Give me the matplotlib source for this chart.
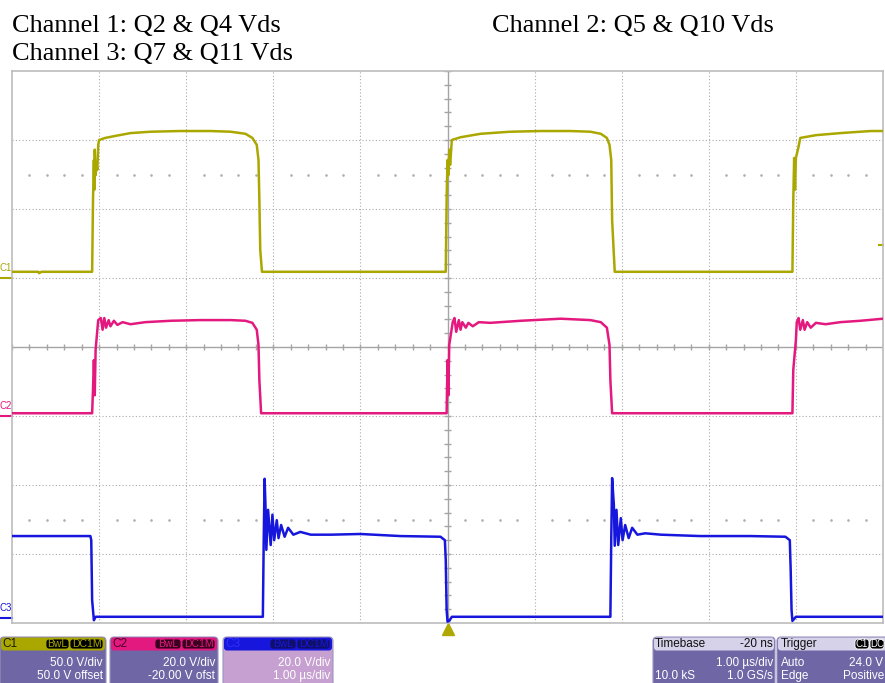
import numpy as np
import matplotlib.pyplot as plt
from matplotlib.patches import FancyBboxPatch

# time in us (1 us/div), level in screen divisions (8 divisions tall)
c1_t = [-5.00, -4.70, -4.69, -4.66, -4.30, -4.08,
        -4.07, -4.06, -4.055, -4.05, -4.04, -4.03, -4.02, -4.01, -4.00,
        -3.93, -3.81, -3.64, -3.41, -3.07, -2.72, -2.49, -2.32, -2.24, -2.19, -2.17, -2.16, -2.15, -2.13,
        -1.00, -0.02,
        -0.01, 0.00, 0.01, 0.02, 0.03, 0.05,
        0.15, 0.38, 0.72, 1.07, 1.41, 1.64, 1.76, 1.83, 1.86, 1.88, 1.89, 1.92,
        3.00, 3.96,
        3.97, 3.98, 3.99, 4.00, 4.03, 4.05, 4.23, 4.51, 4.74, 4.86, 5.00]
c1_v = [1.09, 1.09, 1.07, 1.09, 1.09, 1.09,
        2.13, 2.71, 2.28, 2.86, 2.49, 2.64, 2.57, 2.93, 3.00,
        3.03, 3.06, 3.10, 3.12, 3.13, 3.13, 3.12, 3.09, 3.03, 2.93, 2.71, 2.13, 1.41, 1.09,
        1.09, 1.09,
        2.13, 2.71, 2.49, 2.86, 2.64, 3.00,
        3.04, 3.09, 3.12, 3.13, 3.13, 3.12, 3.09, 3.03, 2.93, 2.71, 1.84, 1.09,
        1.09, 1.09,
        2.13, 2.74, 2.28, 2.74, 2.90, 3.03, 3.07, 3.10, 3.12, 3.13, 3.13]

c2_t = [-5.00, -4.08,
        -4.07, -4.06, -4.05, -4.04, -4.02, -4.01, -3.98, -3.96, -3.94, -3.92, -3.89, -3.87, -3.83, -3.79,
        -3.73, -3.64, -3.47, -3.18, -2.84, -2.49, -2.32, -2.24, -2.19, -2.17, -2.16, -2.14,
        -0.01,
        0.00, 0.01, 0.02, 0.06, 0.08, 0.10, 0.13, 0.15, 0.17, 0.21, 0.24, 0.29, 0.36, 0.49, 0.84,
        1.30, 1.64, 1.76, 1.83, 1.86, 1.87, 1.89,
        3.96,
        3.97, 4.00, 4.01, 4.03, 4.05, 4.08, 4.10, 4.13, 4.17, 4.23, 4.34, 4.51, 4.74, 5.00]
c2_v = [-0.96, -0.96,
        -0.62, -0.19, -0.70, -0.04, 0.25, 0.39, 0.42, 0.25, 0.42, 0.28, 0.39, 0.30, 0.38, 0.32,
        0.36, 0.33, 0.36, 0.38, 0.39, 0.39, 0.38, 0.35, 0.25, 0.03, -0.48, -0.96,
        -0.96,
        -0.19, -0.70, 0.03, 0.36, 0.42, 0.22, 0.39, 0.25, 0.36, 0.28, 0.35, 0.30, 0.36, 0.35, 0.38,
        0.41, 0.39, 0.36, 0.28, 0.03, -0.48, -0.96,
        -0.96,
        -0.33, 0.10, 0.36, 0.42, 0.25, 0.39, 0.25, 0.36, 0.28, 0.35, 0.33, 0.36, 0.38, 0.41]

c3_t = [-5.00, -4.10, -4.09, -4.08, -4.06, -4.04, -2.12,
        -2.11, -2.10, -2.09, -2.08, -2.06, -2.03, -2.01, -1.99, -1.96, -1.94, -1.91, -1.87, -1.83,
        -1.77, -1.69, -1.57, -1.34, -1.00, -0.54, -0.08, -0.03, -0.02, -0.01, 0.00, 0.02, 0.05, 1.87,
        1.88, 1.89, 1.91, 1.92, 1.94, 1.96, 1.99, 2.01, 2.04, 2.08, 2.12, 2.18, 2.27, 2.45, 2.90,
        3.48, 3.88, 3.93, 3.94, 3.95, 3.96, 4.00, 5.00]
c3_v = [-2.74, -2.74, -2.80, -3.67, -3.96, -3.91, -3.91,
        -2.80, -1.91, -2.29, -2.94, -2.36, -2.87, -2.43, -2.80, -2.51, -2.77, -2.58, -2.75, -2.62,
        -2.72, -2.68, -2.72, -2.72, -2.71, -2.74, -2.75, -2.80, -3.09, -3.81, -3.98, -3.97, -3.91, -3.91,
        -2.80, -1.90, -2.29, -2.88, -2.36, -2.87, -2.48, -2.80, -2.58, -2.77, -2.62, -2.72, -2.70, -2.72, -2.74,
        -2.74, -2.75, -2.80, -3.23, -3.81, -3.97, -3.91, -3.91]

c1_ground = 50.0 / 50.0      # offset / volts per div
c2_ground = -20.0 / 20.0
c3_ground = -3.93
trig_level = (24.0 + 50.0) / 50.0

c1_color = '#aaa800'
c2_color = '#e4197f'
c3_color = '#1616dc'

W, H = 885, 683
fig = plt.figure(figsize=(W / 100, H / 100), dpi=100)
fig.patch.set_facecolor('white')

for x, y, s in [(12, 32, 'Channel 1: Q2 & Q4 Vds'),
                (492, 32, 'Channel 2: Q5 & Q10 Vds'),
                (12, 60, 'Channel 3: Q7 & Q11 Vds')]:
    fig.text(x / W, 1 - y / H, s, family='Liberation Serif', fontsize=19, va='baseline')

ax = fig.add_axes([12 / W, 60 / H, 871 / W, 552 / H])
ax.set_xlim(-5, 5)
ax.set_ylim(-4, 4)
ax.set_xticks([])
ax.set_yticks([])
for sp in ax.spines.values():
    sp.set_color('#bcbcbc')
    sp.set_linewidth(1.2)

grid_kw = dict(color='#ababab', lw=0.8, ls=(0, (1, 2)), zorder=1)
for gx in range(-4, 5):
    if gx != 0:
        ax.axvline(gx, **grid_kw)
for gy in range(-3, 4):
    if gy != 0:
        ax.axhline(gy, **grid_kw)
ax.axvline(0, color='#a4a4a4', lw=1, zorder=1)
ax.axhline(0, color='#a4a4a4', lw=1, zorder=1)
ax.vlines(np.arange(-5, 5.001, 0.2), -0.05, 0.05, color='#a4a4a4', lw=1, zorder=1)
ax.hlines(np.arange(-4, 4.001, 0.2), -0.04, 0.04, color='#a4a4a4', lw=1, zorder=1)

sub = [t for t in np.arange(-5, 5.001, 0.2) if abs(t - round(t)) > 1e-6]
for lvl in (2.5, -2.5):
    ax.plot(sub, [lvl] * len(sub), ls='none', marker='o', ms=0.9, color='#b0b0b0', zorder=1)

ax.plot(c1_t, c1_v, color=c1_color, lw=1.8, zorder=3)
ax.plot(c2_t, c2_v, color=c2_color, lw=1.8, zorder=3)
ax.plot(c3_t, c3_v, color=c3_color, lw=1.8, zorder=3)

# ground markers on the left
for name, g, col in [('C1', c1_ground, c1_color), ('C2', c2_ground, c2_color), ('C3', c3_ground, c3_color)]:
    ax.plot([-5.14, -5.0], [g, g], color=col, lw=1.5, clip_on=False)
    ax.text(-5.14, g + 0.07, name, color=col, fontsize=7, ha='left', va='bottom',
            family='Liberation Sans', clip_on=False)

ax.plot([4.95, 5.0], [trig_level, trig_level], color=c1_color, lw=1.5, clip_on=False)
ax.plot([0], [-4.085], marker='^', ms=8, color='#b0a800', clip_on=False)

# status bar
ov = fig.add_axes([0, 0, 1, 1])
ov.set_xlim(0, W)
ov.set_ylim(H, 0)
ov.axis('off')

body = '#6f66a6'
txt_kw = dict(family='Liberation Sans', fontsize=8.5, va='center')


def box(x0, x1, head, bodycol):
    ov.add_patch(FancyBboxPatch((x0, 637), x1 - x0, 50, boxstyle='round,pad=0,rounding_size=4',
                                fc=bodycol, ec='#9a94c0', lw=0.8))
    ov.add_patch(FancyBboxPatch((x0 + 1, 637.5), x1 - x0 - 2, 13, boxstyle='round,pad=0,rounding_size=3',
                                fc=head, ec='none'))


def badge(x0, x1, s, fc, tc, size=7.5):
    ov.add_patch(FancyBboxPatch((x0, 639), x1 - x0, 10, boxstyle='round,pad=0,rounding_size=3',
                                fc=fc, ec=tc, lw=0.6))
    ov.text((x0 + x1) / 2, 644, s, color=tc, ha='center', family='Liberation Sans', fontsize=size, va='center')


channels = [('C1', 0, 106, c1_color, body, '#1a1a00', '#000000', ['50.0 V/div', '50.0 V offset']),
            ('C2', 110, 218, c2_color, body, '#4a0024', '#3a0020', ['20.0 V/div', '-20.00 V ofst']),
            ('C3', 223, 333, c3_color, '#c6a0d0', '#3030ff', '#10106a', ['20.0 V/div', '1.00 \u00b5s/div'])]
for name, x0, x1, col, bcol, ncol, bg, lines in channels:
    box(x0, x1, col, bcol)
    ov.text(x0 + 2, 644, name, color=ncol, ha='left', **txt_kw)
    badge(x1 - 63 + (3 if name == 'C1' else 0), x1 - 37, 'BwL', bg, col)
    badge(x1 - 36, x1 - 3, 'DC1M', bg, col)
    ov.text(x1 - 3, 663, lines[0], color='white', ha='right', **txt_kw)
    ov.text(x1 - 3, 676, lines[1], color='white', ha='right', **txt_kw)

box(653, 775, '#d6d2ea', body)
ov.text(655, 644, 'Timebase', color='#101010', ha='left', **txt_kw)
ov.text(773, 644, '-20 ns', color='#101010', ha='right', **txt_kw)
ov.text(773, 663, '1.00 \u00b5s/div', color='white', ha='right', **txt_kw)
ov.text(655, 676, '10.0 kS', color='white', ha='left', **txt_kw)
ov.text(773, 676, '1.0 GS/s', color='white', ha='right', **txt_kw)

box(777, 892, '#d6d2ea', body)
ov.text(781, 644, 'Trigger', color='#101010', ha='left', **txt_kw)
badge(855, 869, 'C1', '#000000', '#ffffff', 7)
badge(870, 884, 'DC', '#000000', '#ffffff', 7)
ov.text(781, 663, 'Auto', color='white', ha='left', **txt_kw)
ov.text(883, 663, '24.0 V', color='white', ha='right', **txt_kw)
ov.text(781, 676, 'Edge', color='white', ha='left', **txt_kw)
ov.text(884, 676, 'Positive', color='white', ha='right', **txt_kw)

fig.savefig('out.png', dpi=100)
